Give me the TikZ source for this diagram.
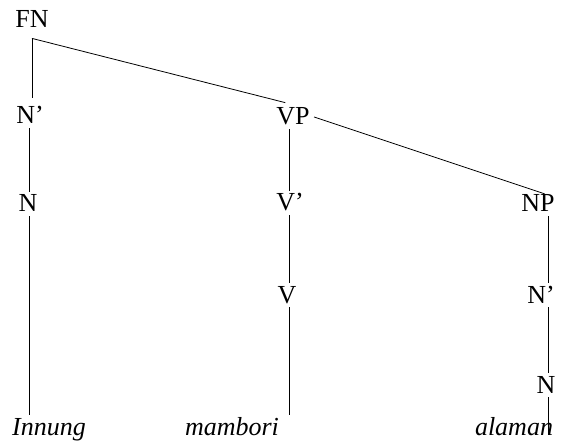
\documentclass[tikz,border=0pt]{standalone}
\usepackage{fontspec}
\setmainfont{Liberation Serif}

\begin{document}
\begin{tikzpicture}[x=1pt, y=-1pt, line width=0.8pt,
    cat/.style={anchor=base, inner sep=4pt, text height=16pt, text depth=0pt,
                font=\fontsize{26}{31}\selectfont},
    word/.style={cat, font=\fontsize{26}{31}\selectfont\itshape}]

    \useasboundingbox (0,0) rectangle (563,441);

    % Columns of the tree
    \coordinate (lcol) at (29,0);
    \coordinate (mcol) at (289,0);
    \coordinate (rcol) at (548,0);

    % Draw the categories
    \node[cat, inner ysep=10pt] (fn) at (32,28) {FN};
    \node[cat] (nbarl) at (30,124) {N’};
    \node[cat] (nl) at (28,212) {N};
    \node[cat] (vp) at (293,125) {VP};
    \node[cat] (vbar) at (290,211) {V’};
    \node[cat] (v) at (287,303) {V};
    \node[cat] (np) at (538,212) {NP};
    \node[cat] (nbarr) at (541,303) {N’};
    \node[cat] (nr) at (546,393) {N};

    % Add the words
    \node[word] (innung) at (49,435) {Innung};
    \node[word] (mambori) at (232,435) {mambori};
    \node[word] (alaman) at (514,435) {alaman};

    % Draw the branches
    \draw[shorten >=6pt] (fn.south) -- (fn.south |- nbarl.north);
    \draw[shorten >=8pt] (fn.south) -- (vp.north);
    \draw[shorten >=-7pt] (vp.east) -- (np.north);

    \draw (nbarl.south -| lcol) -- (nl.north -| lcol);
    \draw (nl.south -| lcol) -- (innung.north -| lcol);

    \draw (vp.south -| mcol) -- (vbar.north -| mcol);
    \draw (vbar.south -| mcol) -- (v.north -| mcol);
    \draw (v.south -| mcol) -- (mambori.north -| mcol);

    \draw (np.south -| rcol) -- (nbarr.north -| rcol);
    \draw (nbarr.south -| rcol) -- (nr.north -| rcol);
    \draw (nr.south -| rcol) -- (alaman.base -| rcol);

\end{tikzpicture}
\end{document}
